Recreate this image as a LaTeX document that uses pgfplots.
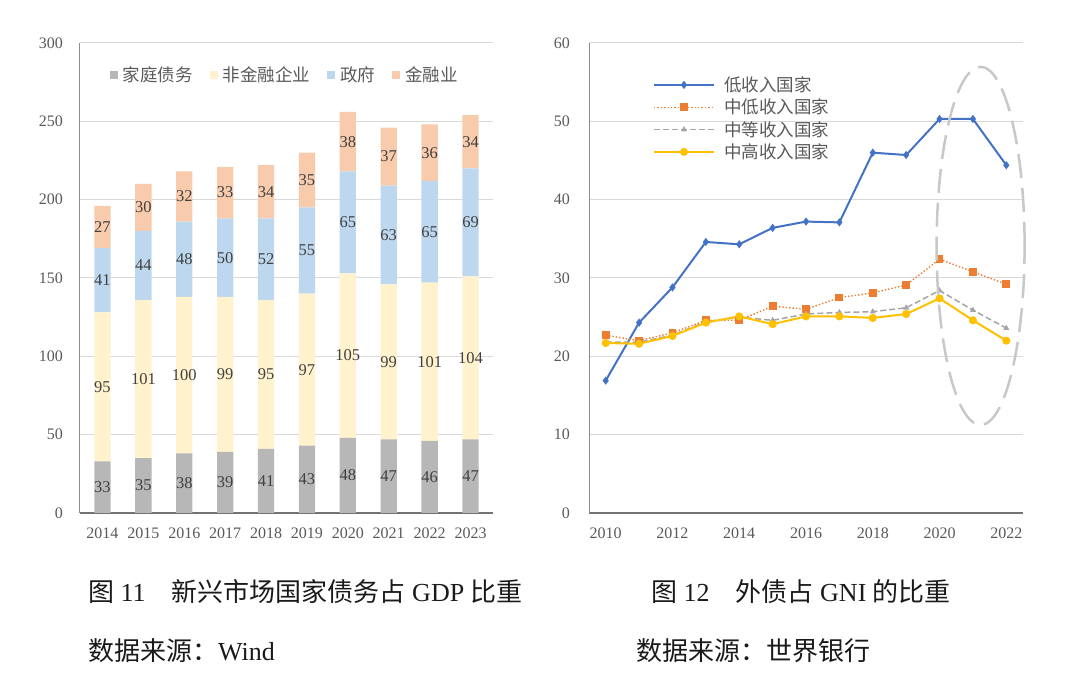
\documentclass[border=0pt]{standalone}
\usepackage{pgfplots}
\usepackage{pgfplotstable}
\pgfplotsset{compat=1.18}
\usepackage{fontspec}
\setmainfont{Liberation Serif}
\newfontfamily\cjk{Noto Sans CJK SC}
\definecolor{hh}{HTML}{B7B7B7}
\definecolor{nf}{HTML}{FFF2CC}
\definecolor{gv}{HTML}{BDD7EE}
\definecolor{fn}{HTML}{F8CBAD}
\definecolor{tk}{HTML}{595959}
\definecolor{gr}{HTML}{D9D9D9}
\definecolor{lbl}{HTML}{404040}
\definecolor{lo}{HTML}{4472C4}
\definecolor{lm}{HTML}{ED7D31}
\definecolor{md}{HTML}{A5A5A5}
\definecolor{um}{HTML}{FFC000}
\definecolor{el}{HTML}{C8C8C8}
\definecolor{cap}{HTML}{1A1A1A}

\pgfplotstableread{
x h n g f
0 33 95 41 27
1 35 101 44 30
2 38 100 48 32
3 39 99 50 33
4 41 95 52 34
5 43 97 55 35
6 48 105 65 38
7 47 99 63 37
8 46 101 65 36
9 47 104 69 34
}\debt

\pgfplotstableread{
x y l
0 16.5 33
1 17.5 35
2 19 38
3 19.5 39
4 20.5 41
5 21.5 43
6 24 48
7 23.5 47
8 23 46
9 23.5 47
0 80.5 95
1 85.5 101
2 88 100
3 88.5 99
4 88.5 95
5 91.5 97
6 100.5 105
7 96.5 99
8 96.5 101
9 99 104
0 148.5 41
1 158 44
2 162 48
3 163 50
4 162 52
5 167.5 55
6 185.5 65
7 177.5 63
8 179.5 65
9 185.5 69
0 182.5 27
1 195 30
2 202 32
3 204.5 33
4 205 34
5 212.5 35
6 237 38
7 227.5 37
8 230 36
9 237 34
}\labels

\pgfplotstableread{
year low lmid mid umid
2010 16.9 22.7 21.8 21.7
2011 24.3 22.0 21.8 21.6
2012 28.8 23.0 22.7 22.6
2013 34.6 24.6 24.4 24.3
2014 34.3 24.6 25.0 25.1
2015 36.4 26.4 24.6 24.1
2016 37.2 26.0 25.4 25.1
2017 37.1 27.5 25.6 25.1
2018 46.0 28.1 25.7 24.9
2019 45.7 29.1 26.2 25.4
2020 50.3 32.4 28.4 27.4
2021 50.3 30.8 25.9 24.6
2022 44.4 29.2 23.6 22.0
}\gni

\pgfplotsset{
  common/.style={
    scale only axis,
    axis lines=left,
    axis line style={-},
    x axis line style={draw=black!55, line width=1.2bp},
    y axis line style={draw=black!45, line width=1bp},
    major tick length=0pt,
    ymajorgrids,
    grid style={gr, line width=1bp},
    ticklabel style={font=\fontsize{16bp}{18bp}\selectfont, text=tk},
    /pgf/number format/assume math mode=true,
    /pgf/number format/set thousands separator={},
    yticklabel style={anchor=east, inner sep=0pt},
    xticklabel style={anchor=north, inner sep=0pt, yshift=-15bp},
  },
  sqleg/.style={legend image code/.code={\path[##1,draw=none] (0bp,-4bp) rectangle (8bp,4bp);}},
}

\begin{document}
\begin{tikzpicture}
\path[use as bounding box] (0bp,0bp) rectangle (1080bp,695bp);

% ---------- left chart ----------
\begin{axis}[common,
  at={(80bp,182bp)}, anchor=south west,
  width=413bp, height=470bp,
  xmin=-0.55, xmax=9.55, ymin=0, ymax=300,
  ytick={0,50,...,300},
  xtick={0,...,9},
  xticklabels={2014,2015,2016,2017,2018,2019,2020,2021,2022,2023},
  yticklabel style={xshift=-17bp},
  ybar stacked, bar width=16.3bp,
  legend style={at={(0.494,0.932)}, anchor=center, draw=none, fill=none,
    font=\cjk\fontsize{17.5bp}{20bp}\selectfont, text=tk,
    /tikz/every odd column/.append style={column sep=4bp},
    /tikz/every even column/.append style={column sep=16bp},
    nodes={inner sep=1bp}},
  legend columns=4,
]
\addplot[fill=hh, draw=none, sqleg] table[x=x,y=h]{\debt};
\addlegendentry{家庭债务}
\addplot[fill=nf, draw=none, sqleg] table[x=x,y=n]{\debt};
\addlegendentry{非金融企业}
\addplot[fill=gv, draw=none, sqleg] table[x=x,y=g]{\debt};
\addlegendentry{政府}
\addplot[fill=fn, draw=none, sqleg] table[x=x,y=f]{\debt};
\addlegendentry{金融业}
\end{axis}

\begin{axis}[
  at={(80bp,182bp)}, anchor=south west, scale only axis,
  width=413bp, height=470bp,
  xmin=-0.55, xmax=9.55, ymin=0, ymax=300, hide axis,
]
\addplot[only marks, mark=none, nodes near coords, point meta=explicit symbolic,
  nodes near coords align=center,
  every node near coord/.append style={font=\fontsize{16.5bp}{18bp}\selectfont, text=lbl, inner sep=0pt}]
  table[x=x,y=y,meta=l]{\labels};
\end{axis}

% ---------- right chart ----------
\begin{axis}[common,
  at={(589bp,182bp)}, anchor=south west,
  width=434bp, height=470bp,
  xmin=2009.5, xmax=2022.5, ymin=0, ymax=60,
  ytick={0,10,...,60},
  xtick={2010,2012,...,2022},
  yticklabel style={xshift=-19bp},
  clip=false,
  legend style={at={(0.14,0.936)}, anchor=north west, draw=none, fill=none,
    font=\cjk\fontsize{17.5bp}{20bp}\selectfont, text=tk,
    /tikz/every odd column/.append style={column sep=8bp},
    row sep=3bp,
    nodes={inner sep=1.5bp}},
  legend cell align=left,
  legend image code/.code={\draw[mark repeat=2,mark phase=2,#1] plot coordinates {(0bp,0bp) (30bp,0bp) (60bp,0bp)};},
]
\addplot[lo, line width=2bp, mark=diamond*, mark size=2.5bp] table[x=year,y=low]{\gni};
\addlegendentry{低收入国家}
\addplot[lm, line width=1.4bp, dotted, mark=square*, mark size=3.2bp, mark options={solid}] table[x=year,y=lmid]{\gni};
\addlegendentry{中低收入国家}
\addplot[md, line width=1.5bp, dash pattern=on 6bp off 3bp, mark=triangle*, mark size=2bp, mark options={solid}] table[x=year,y=mid]{\gni};
\addlegendentry{中等收入国家}
\addplot[um, line width=2bp, mark=*, mark size=3bp] table[x=year,y=umid]{\gni};
\addlegendentry{中高收入国家}
\coordinate (ec) at (axis cs:2021.23,34.1);
\end{axis}
\draw[el, line width=2.5bp, dash pattern=on 24bp off 10bp] (ec) ellipse [x radius=44bp, y radius=179bp];

% ---------- captions ----------
\node[anchor=west, inner sep=0pt, text=cap, font=\fontsize{26bp}{30bp}\selectfont] at (88bp,103bp)
  {{\cjk 图} 11\hspace{26bp}{\cjk 新兴市场国家债务占} GDP {\cjk 比重}};
\node[anchor=west, inner sep=0pt, text=cap, font=\fontsize{26bp}{30bp}\selectfont] at (88bp,44bp)
  {{\cjk 数据来源：}Wind};
\node[anchor=west, inner sep=0pt, text=cap, font=\fontsize{26bp}{30bp}\selectfont] at (651bp,103bp)
  {{\cjk 图} 12\hspace{26bp}{\cjk 外债占} GNI {\cjk 的比重}};
\node[anchor=west, inner sep=0pt, text=cap, font=\fontsize{26bp}{30bp}\selectfont] at (636bp,44bp)
  {{\cjk 数据来源：世界银行}};
\end{tikzpicture}
\end{document}
